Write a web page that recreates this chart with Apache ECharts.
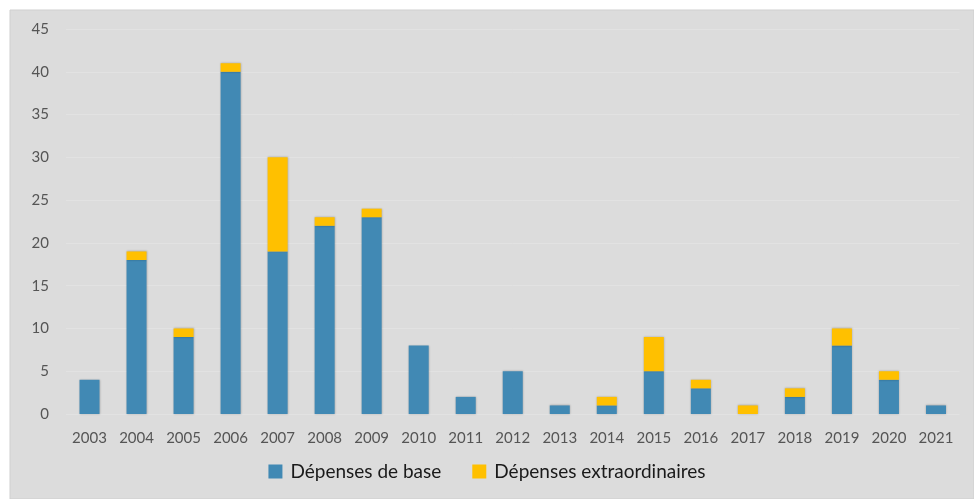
<!DOCTYPE html>
<html><head><meta charset="utf-8">
<script src="https://cdn.jsdelivr.net/npm/echarts@6/dist/echarts.min.js"></script>
<style>html,body{margin:0;padding:0;background:#fff}#c{width:974px;height:499px}</style>
</head><body><div id="c"></div>
<script>
const categories = ['2003','2004','2005','2006','2007','2008','2009','2010','2011','2012','2013','2014','2015','2016','2017','2018','2019','2020','2021'];
const baseValues = [4,18,9,40,19,22,23,8,2,5,1,1,5,3,0,2,8,4,1];
const extraValues = [0,1,1,1,11,1,1,0,0,0,0,1,4,1,1,1,2,1,0];
const yTicks = [0,5,10,15,20,25,30,35,40,45];

const chart = echarts.init(document.getElementById('c'), null, {renderer:'canvas'});
const font = 'Lato, "Open Sans", sans-serif';
chart.setOption({
  animation:false,
  graphic:[{type:'rect', z:-10, shape:{x:10,y:10,width:964,height:489}, style:{fill:'#dcdcdc', stroke:'#cfcfcf', lineWidth:1}}],
  grid:{left:66, right:14.5, top:29, bottom:85, containLabel:false},
  legend:{
    top:457, left:'center', itemWidth:14, itemHeight:14, itemGap:31,
    icon:'rect',
    textStyle:{fontFamily:font, fontSize:19, color:'#1a1a1a', padding:[0,0,0,3]},
    data:['Dépenses de base','Dépenses extraordinaires']
  },
  xAxis:{type:'category', data:categories,
    axisLine:{show:false}, axisTick:{show:false},
    axisLabel:{fontFamily:font, fontSize:15, color:'#555555', margin:17}},
  yAxis:{type:'value', min:yTicks[0], max:yTicks[yTicks.length-1], interval:5,
    axisLine:{show:false}, axisTick:{show:false},
    splitLine:{lineStyle:{color:'#e2e2e2', width:1}},
    axisLabel:{fontFamily:font, fontSize:15, color:'#555555', margin:17}},
  series:[
    {name:'Dépenses de base', type:'bar', stack:'t', data:baseValues, barWidth:20,
      itemStyle:{color:'#4189b4', shadowColor:'rgba(0,0,0,0.25)', shadowBlur:2}},
    {name:'Dépenses extraordinaires', type:'bar', stack:'t', data:extraValues, barWidth:20,
      itemStyle:{color:'#ffc000', shadowColor:'rgba(0,0,0,0.25)', shadowBlur:2}}
  ]
});
</script></body></html>
